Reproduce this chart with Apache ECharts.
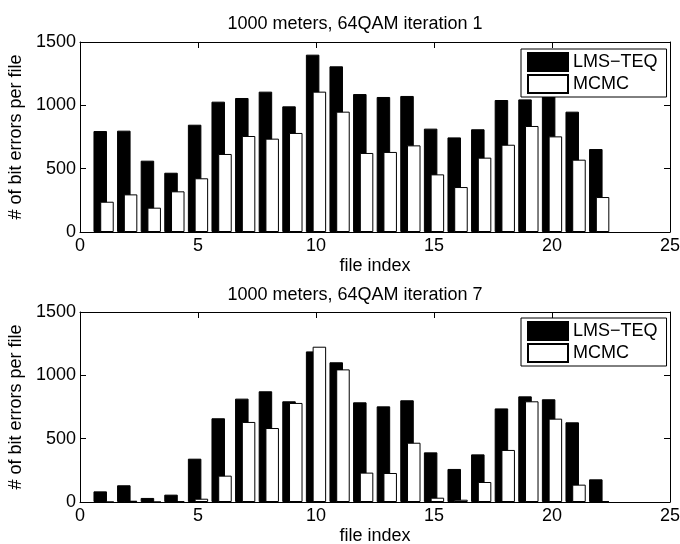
<!DOCTYPE html>
<html>
<head>
<meta charset="utf-8">
<script src="https://cdn.jsdelivr.net/npm/echarts@6/dist/echarts.min.js"></script>
<style>
  html, body { margin: 0; padding: 0; background: #fff; }
  #chart { width: 680px; height: 544px; }
</style>
</head>
<body>
<div id="chart"></div>
<script>
// Bit errors per received file, two equaliser variants
const fileIndex = [1, 2, 3, 4, 5, 6, 7, 8, 9, 10, 11, 12, 13, 14, 15, 16, 17, 18, 19, 20, 21, 22];

const lmsIter1  = [797, 800, 563, 468, 847, 1029, 1058, 1108, 992, 1400, 1308, 1089, 1066, 1074, 816, 747, 811, 1042, 1047, 1090, 950, 655];
const mcmcIter1 = [239, 297, 192, 321, 424, 616, 758, 737, 782, 1108, 950, 624, 632, 684, 455, 355, 587, 689, 837, 755, 571, 276];

const lmsIter7  = [84, 132, 32, 58, 342, 661, 816, 874, 795, 1189, 1103, 787, 755, 803, 392, 261, 376, 739, 834, 811, 629, 179];
const mcmcIter7 = [0, 10, 0, 5, 26, 208, 632, 584, 782, 1226, 1047, 232, 229, 468, 34, 18, 158, 411, 795, 658, 137, 8];

const xTickValues = [0, 5, 10, 15, 20, 25];
const yTickValues = [0, 500, 1000, 1500];

const panelTitles = ['1000 meters, 64QAM iteration 1', '1000 meters, 64QAM iteration 7'];
const seriesNames = ['LMS\u2212TEQ', 'MCMC'];

const FONT = 'Liberation Sans, Arial, Helvetica, sans-serif';
const FS = 18;

const grids = [
  { left: 80, top: 42, width: 590, height: 190, outerBoundsMode: 'none', containLabel: false },
  { left: 80, top: 312, width: 590, height: 190, outerBoundsMode: 'none', containLabel: false }
];

const plainNumber = v => String(v);

function xAxisFor(gi, position) {
  const main = position === 'bottom';
  return {
    type: 'value', gridIndex: gi, position: position,
    min: xTickValues[0], max: xTickValues[xTickValues.length - 1],
    interval: xTickValues[1] - xTickValues[0],
    axisLine: { show: true, onZero: false, lineStyle: { color: '#000', width: 1 } },
    axisTick: { show: true, inside: true, length: 6, lineStyle: { color: '#000', width: 1 } },
    axisLabel: { show: main, margin: 5, color: '#000', fontSize: FS, fontFamily: FONT, formatter: plainNumber },
    splitLine: { show: false },
    name: main ? 'file index' : '',
    nameLocation: 'middle', nameGap: 25,
    nameTextStyle: { color: '#000', fontSize: FS, fontFamily: FONT }
  };
}

function yAxisFor(gi, position) {
  const main = position === 'left';
  return {
    type: 'value', gridIndex: gi, position: position,
    min: yTickValues[0], max: yTickValues[yTickValues.length - 1],
    interval: yTickValues[1] - yTickValues[0],
    axisLine: { show: true, onZero: false, lineStyle: { color: '#000', width: 1 } },
    axisTick: { show: true, inside: true, length: 6, lineStyle: { color: '#000', width: 1 } },
    axisLabel: { show: main, margin: 4, color: '#000', fontSize: FS, fontFamily: FONT, formatter: plainNumber },
    splitLine: { show: false },
    name: main ? '# of bit errors per file' : '',
    nameLocation: 'middle', nameGap: 54,
    nameTextStyle: { color: '#000', fontSize: FS, fontFamily: FONT }
  };
}

function barSeries(name, values, gi, fill) {
  return {
    type: 'bar', name: name,
    xAxisIndex: gi * 2, yAxisIndex: gi * 2,
    data: fileIndex.map((x, i) => [x, values[i]]),
    barWidth: 13.5, barGap: '-50%',
    itemStyle: { color: fill, borderColor: '#000', borderWidth: 1 },
    emphasis: { disabled: true }
  };
}

function legendFor(top) {
  return {
    orient: 'vertical', left: 521, top: top,
    data: seriesNames, icon: 'rect',
    itemWidth: 40, itemHeight: 18, itemGap: 2,
    padding: [3, 9, 3, 6],
    backgroundColor: '#fff', borderColor: '#000', borderWidth: 1,
    selectedMode: false,
    textStyle: { color: '#000', fontSize: FS, fontFamily: FONT, lineHeight: 20 }
  };
}

const chart = echarts.init(document.getElementById('chart'), null, { renderer: 'canvas' });
chart.setOption({
  animation: false,
  backgroundColor: '#fff',
  title: panelTitles.map((t, i) => ({
    text: t, left: 350, textAlign: 'center', top: i === 0 ? 10 : 281,
    textStyle: { color: '#000', fontSize: FS, fontWeight: 'normal', fontFamily: FONT }
  })),
  legend: [legendFor(49), legendFor(318)],
  grid: grids,
  xAxis: [xAxisFor(0, 'bottom'), xAxisFor(0, 'top'), xAxisFor(1, 'bottom'), xAxisFor(1, 'top')],
  yAxis: [yAxisFor(0, 'left'), yAxisFor(0, 'right'), yAxisFor(1, 'left'), yAxisFor(1, 'right')],
  series: [
    barSeries(seriesNames[0], lmsIter1, 0, '#000'),
    barSeries(seriesNames[1], mcmcIter1, 0, '#fff'),
    barSeries(seriesNames[0], lmsIter7, 1, '#000'),
    barSeries(seriesNames[1], mcmcIter7, 1, '#fff')
  ]
});
</script>
</body>
</html>
